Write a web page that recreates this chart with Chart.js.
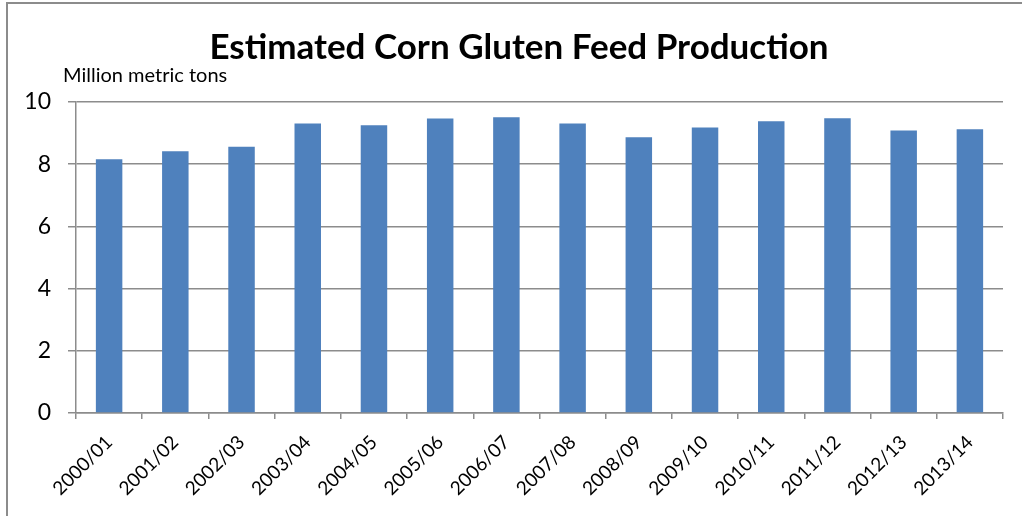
<!DOCTYPE html>
<html>
<head>
<meta charset="utf-8">
<script src="https://cdn.jsdelivr.net/npm/chart.js@4.4.1/dist/chart.umd.min.js"></script>
<style>
  html, body { margin: 0; padding: 0; background: #fff; }
  #wrap { position: relative; width: 1022px; height: 516px; }
</style>
</head>
<body>
<div id="wrap"><canvas id="graphCanvas" width="1022" height="516"></canvas></div>
<script>
var seasons = ['2000/01','2001/02','2002/03','2003/04','2004/05','2005/06','2006/07',
               '2007/08','2008/09','2009/10','2010/11','2011/12','2012/13','2013/14'];
var production = [8.16, 8.42, 8.56, 9.31, 9.25, 9.47, 9.51,
                  9.31, 8.87, 9.18, 9.38, 9.48, 9.08, 9.12];
var yTicks = [0, 2, 4, 6, 8, 10];

var chartTitle = 'Estimated Corn Gluten Feed Production';
var unitLabel = 'Million metric tons';
var fontFace = 'Lato, "Open Sans", sans-serif';
var gridGray = '#8c8c8c';

// frame, title and unit label drawn on top of the canvas
var decor = {
  id: 'decor',
  beforeDraw: function (chart) {
    var ctx = chart.ctx;
    ctx.save();
    ctx.strokeStyle = gridGray;
    ctx.lineWidth = 2;
    ctx.beginPath();
    ctx.moveTo(7, 516);
    ctx.lineTo(7, 3);
    ctx.lineTo(1022, 3);
    ctx.stroke();
    ctx.restore();
  },
  afterDraw: function (chart) {
    var ctx = chart.ctx;
    ctx.save();
    ctx.fillStyle = '#000';
    ctx.textBaseline = 'alphabetic';
    ctx.textAlign = 'center';
    ctx.font = 'bold 35px ' + fontFace;
    ctx.fillText(chartTitle, 519, 59);
    ctx.textAlign = 'left';
    ctx.font = '20px ' + fontFace;
    ctx.fillText(unitLabel, 63, 82);
    ctx.restore();
  }
};

var graphTarget = document.getElementById('graphCanvas');
window.bar = new Chart(graphTarget, {
  type: 'bar',
  data: {
    labels: seasons,
    datasets: [{
      label: 'Production',
      data: production,
      backgroundColor: '#4f81bd',
      borderWidth: 0,
      barPercentage: 0.4,
      categoryPercentage: 1
    }]
  },
  options: {
    responsive: false,
    animation: false,
    layout: { padding: { top: 102, left: 7, right: 19, bottom: 0 } },
    plugins: {
      legend: { display: false },
      title: { display: false },
      tooltip: { enabled: false }
    },
    scales: {
      x: {
        offset: true,
        grid: { display: true, drawOnChartArea: false, drawTicks: true, tickLength: 6, offset: true, color: gridGray, lineWidth: 1.5 },
        border: { display: true, color: gridGray, width: 1.5 },
        ticks: {
          color: '#000',
          font: { family: fontFace, size: 19 },
          minRotation: 45,
          maxRotation: 45,
          padding: 12,
          autoSkip: false
        },
        afterFit: function (scale) { scale.height = 103; }
      },
      y: {
        min: 0,
        max: 10,
        afterBuildTicks: function (scale) {
          scale.ticks = yTicks.map(function (v) { return { value: v }; });
        },
        grid: { color: gridGray, lineWidth: 1.5, tickLength: 8, drawTicks: true },
        border: { display: true, color: gridGray, width: 1.5 },
        ticks: {
          color: '#000',
          font: { family: fontFace, size: 23 },
          padding: 17
        },
        afterFit: function (scale) { scale.width = 69; }
      }
    }
  },
  plugins: [decor]
});
</script>
</body>
</html>
